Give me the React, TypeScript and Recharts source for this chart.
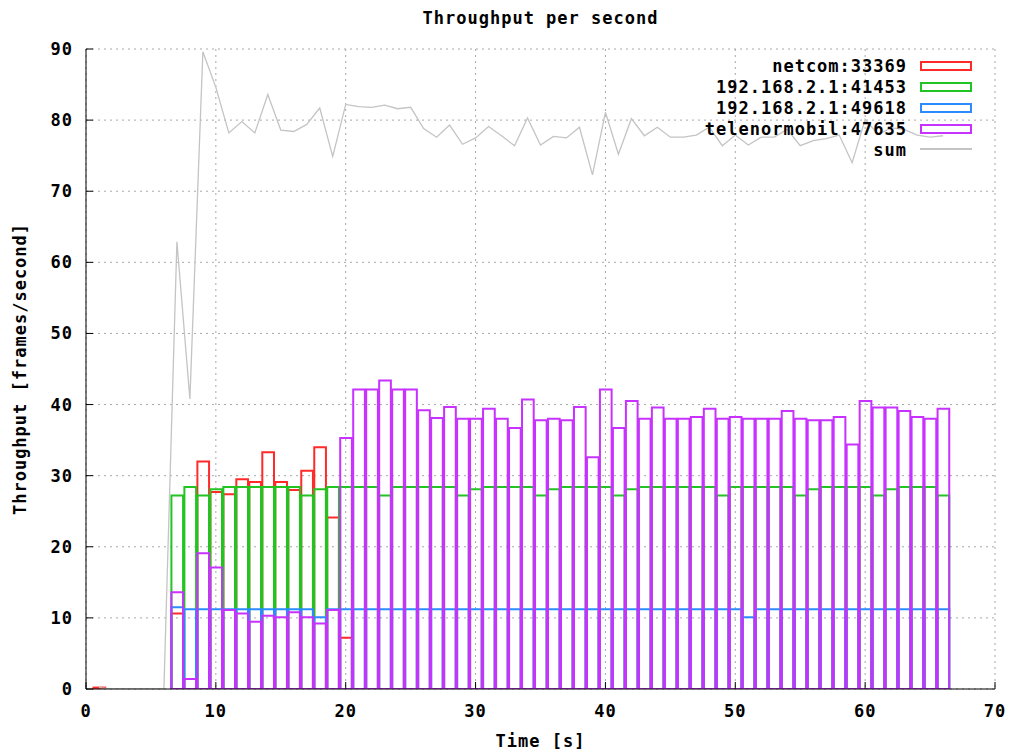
import { ComposedChart, Bar, Line, XAxis, YAxis, CartesianGrid } from "recharts";

const FONT = '"DejaVu Sans Mono", "Liberation Mono", monospace';

// seconds since start (one box per second)
const TIME = [
  1, 2, 3, 4, 5, 6, 7, 8, 9, 10, 11, 12, 13, 14, 15, 16, 17, 18, 19, 20, 21, 22,
  23, 24, 25, 26, 27, 28, 29, 30, 31, 32, 33, 34, 35, 36, 37, 38, 39, 40, 41, 42,
  43, 44, 45, 46, 47, 48, 49, 50, 51, 52, 53, 54, 55, 56, 57, 58, 59, 60, 61, 62,
  63, 64, 65, 66,
];

const NETCOM_33369 = [
  0.2, null, null, null, null, null,
  10.6, null, 32.0, 27.7, 27.4, 29.5, 29.1, 33.3, 29.1, 28.0, 30.7, 34.0, 24.1, 7.2,
  null, null, null, null, null, null, null, null, null, null,
  null, null, null, null, null, null, null, null, null, null,
  null, null, null, null, null, null, null, null, null, null,
  null, null, null, null, null, null, null, null, null, null,
  null, null, null, null, null, null,
];

const HOST_41453 = [
  null, null, null, null, null, null,
  27.2, 28.4, 27.2, 28.1, 28.4, 28.4, 28.4, 28.4, 28.4, 28.4,
  27.2, 28.1, 28.4, 28.4, 28.4, 28.4, 27.2, 28.4, 28.4, 28.4,
  28.4, 28.4, 27.2, 28.1, 28.4, 28.4, 28.4, 28.4, 27.2, 28.1,
  28.4, 28.4, 28.4, 28.4, 27.2, 28.1, 28.4, 28.4, 28.4, 28.4,
  28.4, 28.4, 27.2, 28.4, 28.4, 28.4, 28.4, 28.4, 27.2, 28.1,
  28.4, 28.4, 28.4, 28.4, 27.2, 28.1, 28.4, 28.4, 28.4, 27.2,
];

const HOST_49618 = [
  null, null, null, null, null, null,
  11.5, 11.2, 11.2, 11.2, 11.2, 11.2, 11.2, 11.2, 11.2, 11.2,
  11.2, 10.1, 11.2, 11.2, 11.2, 11.2, 11.2, 11.2, 11.2, 11.2,
  11.2, 11.2, 11.2, 11.2, 11.2, 11.2, 11.2, 11.2, 11.2, 11.2,
  11.2, 11.2, 11.2, 11.2, 11.2, 11.2, 11.2, 11.2, 11.2, 11.2,
  11.2, 11.2, 11.2, 11.2, 10.1, 11.2, 11.2, 11.2, 11.2, 11.2,
  11.2, 11.2, 11.2, 11.2, 11.2, 11.2, 11.2, 11.2, 11.2, 11.2,
];

const TELENORMOBIL_47635 = [
  null, null, null, null, null, null,
  13.6, 1.4, 19.1, 17.1, 11.1, 10.6, 9.45, 10.3, 10.1, 10.8,
  10.1, 9.2, 11.1, 35.3, 42.1, 42.1, 43.4, 42.1, 42.1, 39.2,
  38.1, 39.65, 38.0, 38.0, 39.4, 38.0, 36.7, 40.7, 37.8, 38.0,
  37.8, 39.65, 32.6, 42.1, 36.7, 40.5, 38.0, 39.6, 38.0, 38.0,
  38.25, 39.4, 38.0, 38.25, 38.0, 38.0, 38.0, 39.1, 38.0, 37.8,
  37.8, 38.25, 34.4, 40.5, 39.6, 39.6, 39.1, 38.25, 38.0, 39.4,
];

const SUM = [
  0.2, 0, 0, 0, 0, 0,
  62.9, 40.8, 89.6, 84.6, 78.2, 79.8, 78.2, 83.6, 78.6, 78.4,
  79.4, 81.7, 74.9, 82.2, 81.9, 81.8, 82.1, 81.6, 81.8, 78.8,
  77.6, 79.3, 76.6, 77.5, 79.1, 77.8, 76.4, 80.3, 76.5, 77.7,
  77.5, 79.0, 72.3, 81.1, 75.2, 80.2, 77.8, 79.0, 77.6, 77.6,
  77.9, 79.0, 76.4, 77.9, 76.5, 77.6, 77.6, 78.7, 76.4, 77.1,
  77.4, 77.9, 74.0, 80.1, 78.0, 78.9, 78.7, 77.9, 77.6, 77.8,
];

const X_TICKS = [0, 10, 20, 30, 40, 50, 60, 70];
const Y_TICKS = [0, 10, 20, 30, 40, 50, 60, 70, 80, 90];

const SERIES = [
  { key: "netcom", name: "netcom:33369", color: "#ff2a2a", axis: 0 as number | string },
  { key: "h41453", name: "192.168.2.1:41453", color: "#22c422", axis: "g" },
  { key: "h49618", name: "192.168.2.1:49618", color: "#2a8cff", axis: "b" },
  { key: "tele", name: "telenormobil:47635", color: "#c832ff", axis: "p" },
];
const SUM_COLOR = "#c4c4c4";

const W = 1021;
const H = 754;
const MARGIN = { top: 49, right: 26, bottom: 25, left: 26 };
const Y_AXIS_W = 60;
const X_AXIS_H = 40;
const PLOT_W = W - MARGIN.left - MARGIN.right - Y_AXIS_W;
const BOX_W = PLOT_W / 70;

const TEXT_STYLE = {
  fontFamily: FONT,
  fontSize: 17,
  fontWeight: 700,
  letterSpacing: 1,
  fill: "#000",
};
const AXIS_LINE = { stroke: "#000", strokeWidth: 1 };

const data = TIME.map((t, i) => ({
  t,
  netcom: NETCOM_33369[i],
  h41453: HOST_41453[i],
  h49618: HOST_49618[i],
  tele: TELENORMOBIL_47635[i],
  sum: SUM[i],
}));

function YTitle({ viewBox }: any) {
  const cy = viewBox ? viewBox.y + viewBox.height / 2 : 369;
  const cx = 20;
  return (
    <text
      x={cx}
      y={cy}
      transform={`rotate(-90 ${cx} ${cy})`}
      textAnchor="middle"
      dominantBaseline="central"
      style={TEXT_STYLE}
    >
      Throughput [frames/second]
    </text>
  );
}

function XTitle({ viewBox }: any) {
  const cx = viewBox ? viewBox.x + viewBox.width / 2 : 540;
  return (
    <text x={cx} y={741} textAnchor="middle" dominantBaseline="central" style={TEXT_STYLE}>
      Time [s]
    </text>
  );
}

const htmlText = {
  fontFamily: FONT,
  fontSize: 17,
  fontWeight: 700,
  letterSpacing: 1,
  color: "#000",
  lineHeight: "20px",
  whiteSpace: "nowrap" as const,
};

function KeyBox() {
  const rows = [...SERIES.map((s) => ({ name: s.name, color: s.color, line: false })), { name: "sum", color: SUM_COLOR, line: true }];
  return (
    <>
      {rows.map((r, i) => {
        const cy = 66 + i * 21;
        return (
          <div key={r.name}>
            <div style={{ ...htmlText, position: "absolute", left: 500, width: 407, top: cy - 10, textAlign: "right" }}>
              {r.name}
            </div>
            {r.line ? (
              <div style={{ position: "absolute", left: 920, top: cy - 2, width: 52, height: 1.5, background: r.color }} />
            ) : (
              <div
                style={{
                  position: "absolute",
                  left: 920,
                  top: cy - 5,
                  width: 52,
                  height: 10,
                  boxSizing: "border-box",
                  border: `2px solid ${r.color}`,
                }}
              />
            )}
          </div>
        );
      })}
    </>
  );
}

export default function App() {
  return (
    <div style={{ position: "absolute", left: 0, top: 0, width: W, height: H, background: "#fff" }}>
      <div style={{ ...htmlText, position: "absolute", left: 86, width: PLOT_W, top: 8, textAlign: "center" }}>
        Throughput per second
      </div>
      <ComposedChart width={W} height={H} data={data} margin={MARGIN}>
        <CartesianGrid stroke="#a8a8a8" strokeDasharray="2 4" />
        <XAxis
          dataKey="t"
          type="number"
          domain={[0, 70]}
          ticks={X_TICKS}
          interval={0}
          allowDataOverflow
          height={X_AXIS_H}
          tickSize={-7}
          tickMargin={23}
          tick={TEXT_STYLE}
          axisLine={AXIS_LINE}
          tickLine={AXIS_LINE}
          label={<XTitle />}
        />
        <XAxis
          xAxisId="top"
          orientation="top"
          dataKey="t"
          type="number"
          domain={[0, 70]}
          ticks={X_TICKS}
          interval={0}
          allowDataOverflow
          height={0}
          tickSize={-7}
          tickFormatter={() => ""}
          axisLine={AXIS_LINE}
          tickLine={AXIS_LINE}
        />
        {["g", "b", "p"].map((id) => (
          <XAxis key={id} xAxisId={id} dataKey="t" type="number" domain={[0, 70]} allowDataOverflow hide />
        ))}
        <YAxis
          type="number"
          domain={[0, 90]}
          ticks={Y_TICKS}
          interval={0}
          allowDataOverflow
          width={Y_AXIS_W}
          tickSize={-7}
          tickMargin={20}
          tick={TEXT_STYLE}
          axisLine={AXIS_LINE}
          tickLine={AXIS_LINE}
          label={<YTitle />}
        />
        <YAxis
          yAxisId="right"
          orientation="right"
          type="number"
          domain={[0, 90]}
          ticks={Y_TICKS}
          interval={0}
          allowDataOverflow
          width={0}
          tickSize={-7}
          tickFormatter={() => ""}
          axisLine={AXIS_LINE}
          tickLine={AXIS_LINE}
        />
        {SERIES.map((s) => (
          <Bar
            key={s.key}
            xAxisId={s.axis}
            dataKey={s.key}
            name={s.name}
            fill="none"
            stroke={s.color}
            strokeWidth={2}
            barSize={BOX_W}
            isAnimationActive={false}
          />
        ))}
        <Line
          type="linear"
          dataKey="sum"
          name="sum"
          stroke={SUM_COLOR}
          strokeWidth={1.3}
          dot={false}
          activeDot={false}
          isAnimationActive={false}
        />
      </ComposedChart>
      <KeyBox />
    </div>
  );
}
